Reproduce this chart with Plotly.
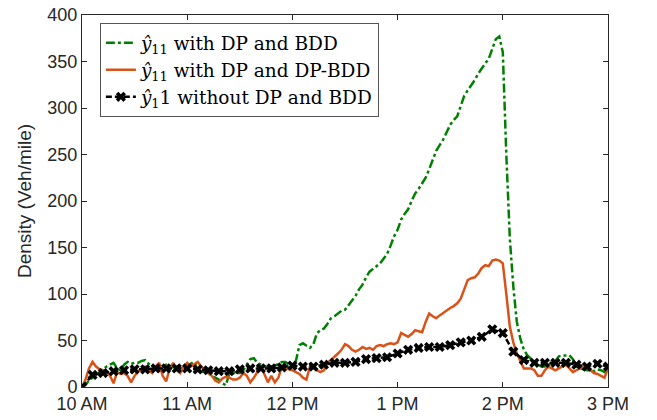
import plotly.graph_objects as go

# Time axis: minutes after 10 AM
minutes_fine = list(range(0, 301, 2))
minutes_coarse = list(range(0, 301, 6))

tick_minutes = [0, 60, 120, 180, 240, 300]
tick_labels = ["10 AM", "11 AM", "12 PM", "1 PM", "2 PM", "3 PM"]
y_ticks = [0, 50, 100, 150, 200, 250, 300, 350, 400]

# y_hat_11 with DP and BDD (green dash-dot)
green_bdd = [
    0, 2, 7, 10, 14, 16, 20, 22, 24, 26,
    20, 18, 24, 27, 25, 26, 26, 28, 29, 25,
    23, 22, 23, 22, 24, 22, 21, 22, 20, 21,
    20, 25, 27, 20, 17, 16, 15, 12, 10, 8,
    4, 2, 14, 15, 15, 15, 18, 24, 30, 31,
    26, 24, 22, 21, 22, 23, 25, 27, 27, 24,
    22, 28, 45, 47, 44, 42, 46, 58, 61, 63,
    68, 74, 76, 79, 82, 83, 88, 93, 98, 105,
    110, 118, 124, 127, 130, 133, 138, 143, 152, 162,
    169, 180, 186, 191, 200, 208, 213, 219, 225, 234,
    244, 254, 260, 266, 274, 282, 287, 291, 302, 313,
    319, 324, 330, 337, 343, 348, 353, 364, 374, 377,
    360, 250, 160, 108, 70, 52, 40, 34, 30, 27,
    24, 22, 22, 24, 26, 28, 33, 34, 34, 34,
    30, 22, 20, 19, 18, 18, 17, 19, 18, 16,
    15,
]

# y_hat_11 with DP and DP-BDD (orange solid)
orange_dpbdd = [
    0, 8, 20, 27, 22, 19, 18, 16, 12, 4,
    16, 14, 15, 12, 5, 12, 17, 20, 22, 18,
    15, 22, 26, 12, 6, 20, 26, 18, 15, 22,
    26, 22, 25, 27, 22, 18, 15, 12, 7, 5,
    9, 11, 10, 8, 8, 10, 15, 12, 5, 10,
    16, 22, 14, 5, 12, 5, 10, 22, 20, 19,
    18, 16, 14, 10, 8, 22, 20, 18, 16, 18,
    26, 29, 32, 36, 40, 46, 44, 40, 38, 40,
    43, 41, 42, 40, 44, 45, 44, 46, 47, 46,
    48, 58, 56, 54, 57, 61, 60, 59, 70, 79,
    76, 74, 77, 80, 82, 85, 87, 90, 95, 104,
    115, 117, 118, 122, 128, 131, 130, 136, 137, 136,
    133, 100, 65, 48, 36, 28, 20, 20, 20, 18,
    12, 12, 18, 22, 20, 18, 20, 22, 24, 20,
    16, 18, 20, 22, 20, 18, 15, 14, 12, 10,
    20,
]

# y_hat_1 without DP and BDD (black, x markers), every 6 minutes
black_nodp = [
    0, 13, 15, 17, 18, 19, 19, 20, 20, 20,
    20, 19, 18, 17, 17, 19, 20, 20, 20, 21,
    23, 22, 22, 24, 26, 26, 27, 30, 31, 32,
    36, 40, 42, 43, 43, 45, 48, 50, 54, 62,
    58, 38, 29, 26, 26, 26, 26, 24, 22, 25,
    22,
]

assert len(green_bdd) == len(minutes_fine)
assert len(orange_dpbdd) == len(minutes_fine)
assert len(black_nodp) == len(minutes_coarse)

GREEN = "#008000"
ORANGE = "#D95319"
BLACK = "#000000"
AXIS = "#262626"

fig = go.Figure()
fig.add_trace(go.Scatter(
    x=minutes_fine, y=green_bdd, mode="lines",
    name="<i>ŷ</i><sub>11</sub> with DP and BDD",
    line=dict(color=GREEN, width=2.5, dash="dashdot"),
))
fig.add_trace(go.Scatter(
    x=minutes_fine, y=orange_dpbdd, mode="lines",
    name="<i>ŷ</i><sub>11</sub> with DP and DP-BDD",
    line=dict(color=ORANGE, width=2.5),
))
fig.add_trace(go.Scatter(
    x=minutes_coarse, y=black_nodp, mode="lines+markers",
    name="<i>ŷ</i><sub>1</sub>1 without DP and BDD",
    line=dict(color=BLACK, width=2.5, dash="6px,3px"),
    marker=dict(symbol="x", size=9, color=BLACK),
))

# page body has an 8px default margin; figure sized to fit the window
fig.update_layout(
    width=649, height=412,
    margin=dict(l=74, r=49, t=7, b=33),
    paper_bgcolor="white", plot_bgcolor="white",
    font=dict(family="Liberation Sans, Arial, sans-serif", size=18, color=AXIS),
    showlegend=True,
    legend=dict(
        x=0.034, y=0.978, xanchor="left", yanchor="top",
        bgcolor="white", bordercolor="#555555", borderwidth=1,
        font=dict(family="DejaVu Serif, Liberation Serif, serif", size=18.5, color="#000000"),
        tracegroupgap=0, itemwidth=30,
    ),
)
fig.update_xaxes(
    range=[0, 300], tickmode="array", tickvals=tick_minutes, ticktext=tick_labels,
    showgrid=False, zeroline=False, showline=True, linecolor=AXIS, linewidth=1,
    mirror="ticks", ticks="inside", ticklen=5, tickcolor=AXIS,
    tickfont=dict(size=18, color=AXIS), automargin=False,
    ticklabeloverflow="allow",
)
fig.update_yaxes(
    range=[0, 400], tickmode="array", tickvals=y_ticks,
    showgrid=False, zeroline=False, showline=True, linecolor=AXIS, linewidth=1,
    mirror="ticks", ticks="inside", ticklen=5, tickcolor=AXIS,
    tickfont=dict(size=18, color=AXIS), automargin=False,
    ticklabeloverflow="allow",
    title=dict(text="Density (Veh/mile)", font=dict(size=19, color=AXIS), standoff=10),
)

fig.write_html("out.html")
